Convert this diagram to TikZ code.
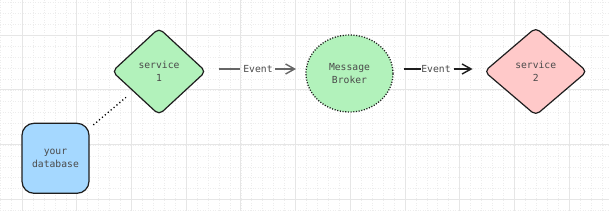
\documentclass[tikz,border=0pt]{standalone}
\usepackage{fontspec}
\setmonofont{DejaVu Sans Mono}
\usetikzlibrary{shapes.geometric,arrows.meta}
\definecolor{stroke}{HTML}{1E1E1E}
\definecolor{txt}{HTML}{4A4A4A}
\definecolor{greenfill}{HTML}{B2F2BB}
\definecolor{pinkfill}{HTML}{FFC9C9}
\definecolor{bluefill}{HTML}{A5D8FF}
\definecolor{gridmajor}{HTML}{E6E6E6}
\definecolor{gridminor}{HTML}{EDEDED}
\tikzset{
  lbl/.style={font=\ttfamily\fontsize{9.7}{13.3}\selectfont, text=txt, align=center},
  dia/.style={diamond, draw=stroke, line width=1.2pt, rounded corners=5pt, inner sep=0pt, lbl},
  evlbl/.style={lbl, inner sep=0pt},
  evarrow/.style={line width=1.4pt, -{Straight Barb[length=9pt,width=10pt,line width=1.4pt]}},
}
\begin{document}
\begin{tikzpicture}[x=1pt,y=-1pt]
\useasboundingbox (0,0) rectangle (609,211);
\fill[white] (0,0) rectangle (609,211);
% minor grid
\foreach \i in {-2,...,56} {
  \draw[gridminor, line width=0.5pt, dotted] ({22+\i*10.94},0) -- ({22+\i*10.94},211);
}
\foreach \j in {-4,...,17} {
  \draw[gridminor, line width=0.5pt, dotted] (0,{35+\j*10.98}) -- (609,{35+\j*10.98});
}
% major grid
\foreach \i in {0,...,10} {
  \draw[gridmajor, line width=0.8pt] ({22+\i*54.7},0) -- ({22+\i*54.7},211);
}
\foreach \j in {0,...,3} {
  \draw[gridmajor, line width=0.8pt] (0,{35+\j*54.9}) -- (609,{35+\j*54.9});
}
% nodes
\node[dia, fill=greenfill, minimum width=94pt, minimum height=87pt] (s1) at (159,71.5) {service\\1};
\node[draw=stroke, fill=bluefill, line width=1.2pt, rounded corners=12pt, minimum width=67pt, minimum height=70pt, inner sep=0pt, lbl] (db) at (55.5,158.3) {your\\database};
\node[ellipse, draw=stroke, fill=greenfill, line width=1.3pt, dash pattern=on 1.1pt off 1.6pt, minimum width=87pt, minimum height=77pt, inner sep=0pt, lbl] (mb) at (349.5,73.5) {Message\\Broker};
\node[dia, fill=pinkfill, minimum width=103pt, minimum height=88pt] (s2) at (535.7,71.5) {service\\2};
% dotted link
\coordinate (d1) at (93.3,125);
\coordinate (d2) at (126,97.3);
\draw[stroke, line width=1.3pt, dash pattern=on 1.2pt off 2.6pt] (d1) -- (d2);
% arrow 1
\coordinate (a1s) at (219.3,69);
\coordinate (a1e) at (296,69);
\node[evlbl] (e1) at (258,69) {Event};
\draw[color=black!60, line width=1.4pt] (a1s) -- ([xshift=-3pt]e1.west);
\draw[color=black!60, evarrow] ([xshift=2pt]e1.east) -- (a1e);
% arrow 2
\coordinate (a2s) at (404,69);
\coordinate (a2e) at (472.5,69);
\node[evlbl] (e2) at (436,69) {Event};
\draw[color=stroke, line width=1.4pt] (a2s) -- (e2.west);
\draw[color=stroke, evarrow] ([xshift=3pt]e2.east) -- (a2e);
\end{tikzpicture}
\end{document}
